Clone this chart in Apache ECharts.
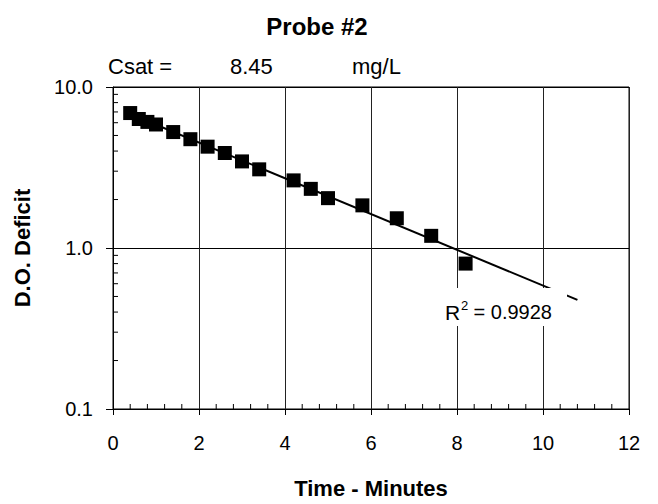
<!DOCTYPE html>
<html><head><meta charset="utf-8">
<script src="https://cdn.jsdelivr.net/npm/echarts@6/dist/echarts.min.js"></script>
<style>html,body{margin:0;padding:0;background:#fff}#c{width:658px;height:504px}</style>
</head><body><div id="c"></div>
<script>
// ---- data ----
const timeMin   = [0.4, 0.6, 0.8, 1.0, 1.4, 1.8, 2.2, 2.6, 3.0, 3.4, 4.2, 4.6, 5.0, 5.8, 6.6, 7.4, 8.2];
const doDeficit = [6.89, 6.33, 6.07, 5.85, 5.25, 4.74, 4.26, 3.89, 3.45, 3.08, 2.63, 2.33, 2.04, 1.84, 1.53, 1.19, 0.80];
const xTicks = [0, 2, 4, 6, 8, 10, 12];
const yTicks = [0.1, 1.0, 10.0];
const trendStart = 0.4;
const trendEnd = 10.8;
const titleText = 'Probe #2';
const csatLabel = 'Csat =';
const csatValue = '8.45';
const csatUnit = 'mg/L';
const r2Value = '0.9928';
const xTitle = 'Time - Minutes';
const yTitle = 'D.O. Deficit';

// ---- exponential trendline (least squares on log10) ----
const n = timeMin.length;
let sx = 0, sy = 0, sxx = 0, sxy = 0;
for (let i = 0; i < n; i++) {
  const x = timeMin[i], y = Math.log10(doDeficit[i]);
  sx += x; sy += y; sxx += x * x; sxy += x * y;
}
const slope = (n * sxy - sx * sy) / (n * sxx - sx * sx);
const icpt = (sy - slope * sx) / n;
const trendData = [trendStart, trendEnd].map(t => [t, Math.pow(10, icpt + slope * t)]);

// minor tick positions (axis decoration)
const minorX = [];
for (let i = 0; i < xTicks.length - 1; i++) {
  const a = xTicks[i], b = xTicks[i + 1];
  for (let k = 1; k < 5; k++) minorX.push([a + (b - a) * k / 5, yTicks[0], 0]);
}
const minorY = [];
for (let d = 0; d < yTicks.length - 1; d++) {
  for (let k = 2; k < 10; k++) minorY.push([xTicks[0], yTicks[d] * k, 1]);
}

const FONT = 'Liberation Sans, Arial, sans-serif';
const chart = echarts.init(document.getElementById('c'), null, {renderer: 'svg'});
chart.setOption({
  animation: false,
  backgroundColor: '#fff',
  grid: {left: 113, right: 29, top: 87, bottom: 89, show: true, borderColor: '#000', borderWidth: 1},
  xAxis: {
    type: 'value', min: xTicks[0], max: xTicks[xTicks.length - 1], interval: 2,
    name: xTitle, nameLocation: 'middle', nameGap: 68,
    nameTextStyle: {fontFamily: FONT, fontSize: 22, fontWeight: 'bold', color: '#000'},
    axisLine: {show: true, lineStyle: {color: '#000', width: 1}},
    axisTick: {show: true, length: 6, lineStyle: {color: '#000'}},
    axisLabel: {fontFamily: FONT, fontSize: 20, color: '#000', margin: 24},
    splitLine: {show: true, lineStyle: {color: '#222', width: 1}}
  },
  yAxis: {
    type: 'log', logBase: 10, min: yTicks[0], max: yTicks[yTicks.length - 1],
    name: yTitle, nameLocation: 'middle', nameGap: 80,
    nameTextStyle: {fontFamily: FONT, fontSize: 22, fontWeight: 'bold', color: '#000'},
    axisLine: {show: true, lineStyle: {color: '#000', width: 1}},
    axisTick: {show: true, length: 7, lineStyle: {color: '#000'}},
    axisLabel: {fontFamily: FONT, fontSize: 20, color: '#000', margin: 20,
      formatter: v => Number(v).toFixed(1)},
    splitLine: {show: true, lineStyle: {color: '#000', width: 1}}
  },
  series: [
    {
      type: 'custom', silent: true, z: 1,
      data: minorX.concat(minorY),
      renderItem: (params, api) => {
        const p = api.coord([api.value(0), api.value(1)]);
        const kind = api.value(2);
        const shape = kind === 0
          ? {x1: p[0], y1: p[1], x2: p[0], y2: p[1] - 5}
          : {x1: p[0], y1: p[1], x2: p[0] + 5, y2: p[1]};
        return {type: 'line', shape, style: {stroke: '#000', lineWidth: 1}};
      }
    },
    {
      type: 'line', data: trendData, showSymbol: false, z: 2,
      lineStyle: {color: '#000', width: 2}
    },
    {
      type: 'scatter', z: 3,
      data: timeMin.map((t, i) => [t, doDeficit[i]]),
      symbol: 'rect', symbolSize: 14,
      itemStyle: {color: '#000', opacity: 1}
    }
  ],
  graphic: [
    {type: 'text', x: 317, y: 26, style: {text: titleText, font: 'bold 24px ' + FONT, fill: '#000', align: 'center', verticalAlign: 'middle'}},
    {type: 'text', x: 108, y: 66, style: {text: csatLabel, font: '22px ' + FONT, fill: '#000', verticalAlign: 'middle'}},
    {type: 'text', x: 230, y: 66, style: {text: csatValue, font: '22px ' + FONT, fill: '#000', verticalAlign: 'middle'}},
    {type: 'text', x: 352, y: 66, style: {text: csatUnit, font: '22px ' + FONT, fill: '#000', verticalAlign: 'middle'}},
    {type: 'rect', z: 100, shape: {x: 441, y: 288, width: 126, height: 38}, style: {fill: '#fff'}},
    {type: 'text', z: 101, x: 445, y: 312, style: {text: 'R', font: '21px ' + FONT, fill: '#000', verticalAlign: 'middle'}},
    {type: 'text', z: 101, x: 461, y: 305, style: {text: '2', font: '13px ' + FONT, fill: '#000', verticalAlign: 'middle'}},
    {type: 'text', z: 101, x: 468, y: 312, style: {text: ' = ' + r2Value, font: '20px ' + FONT, fill: '#000', verticalAlign: 'middle'}}
  ]
});
</script>
</body></html>
